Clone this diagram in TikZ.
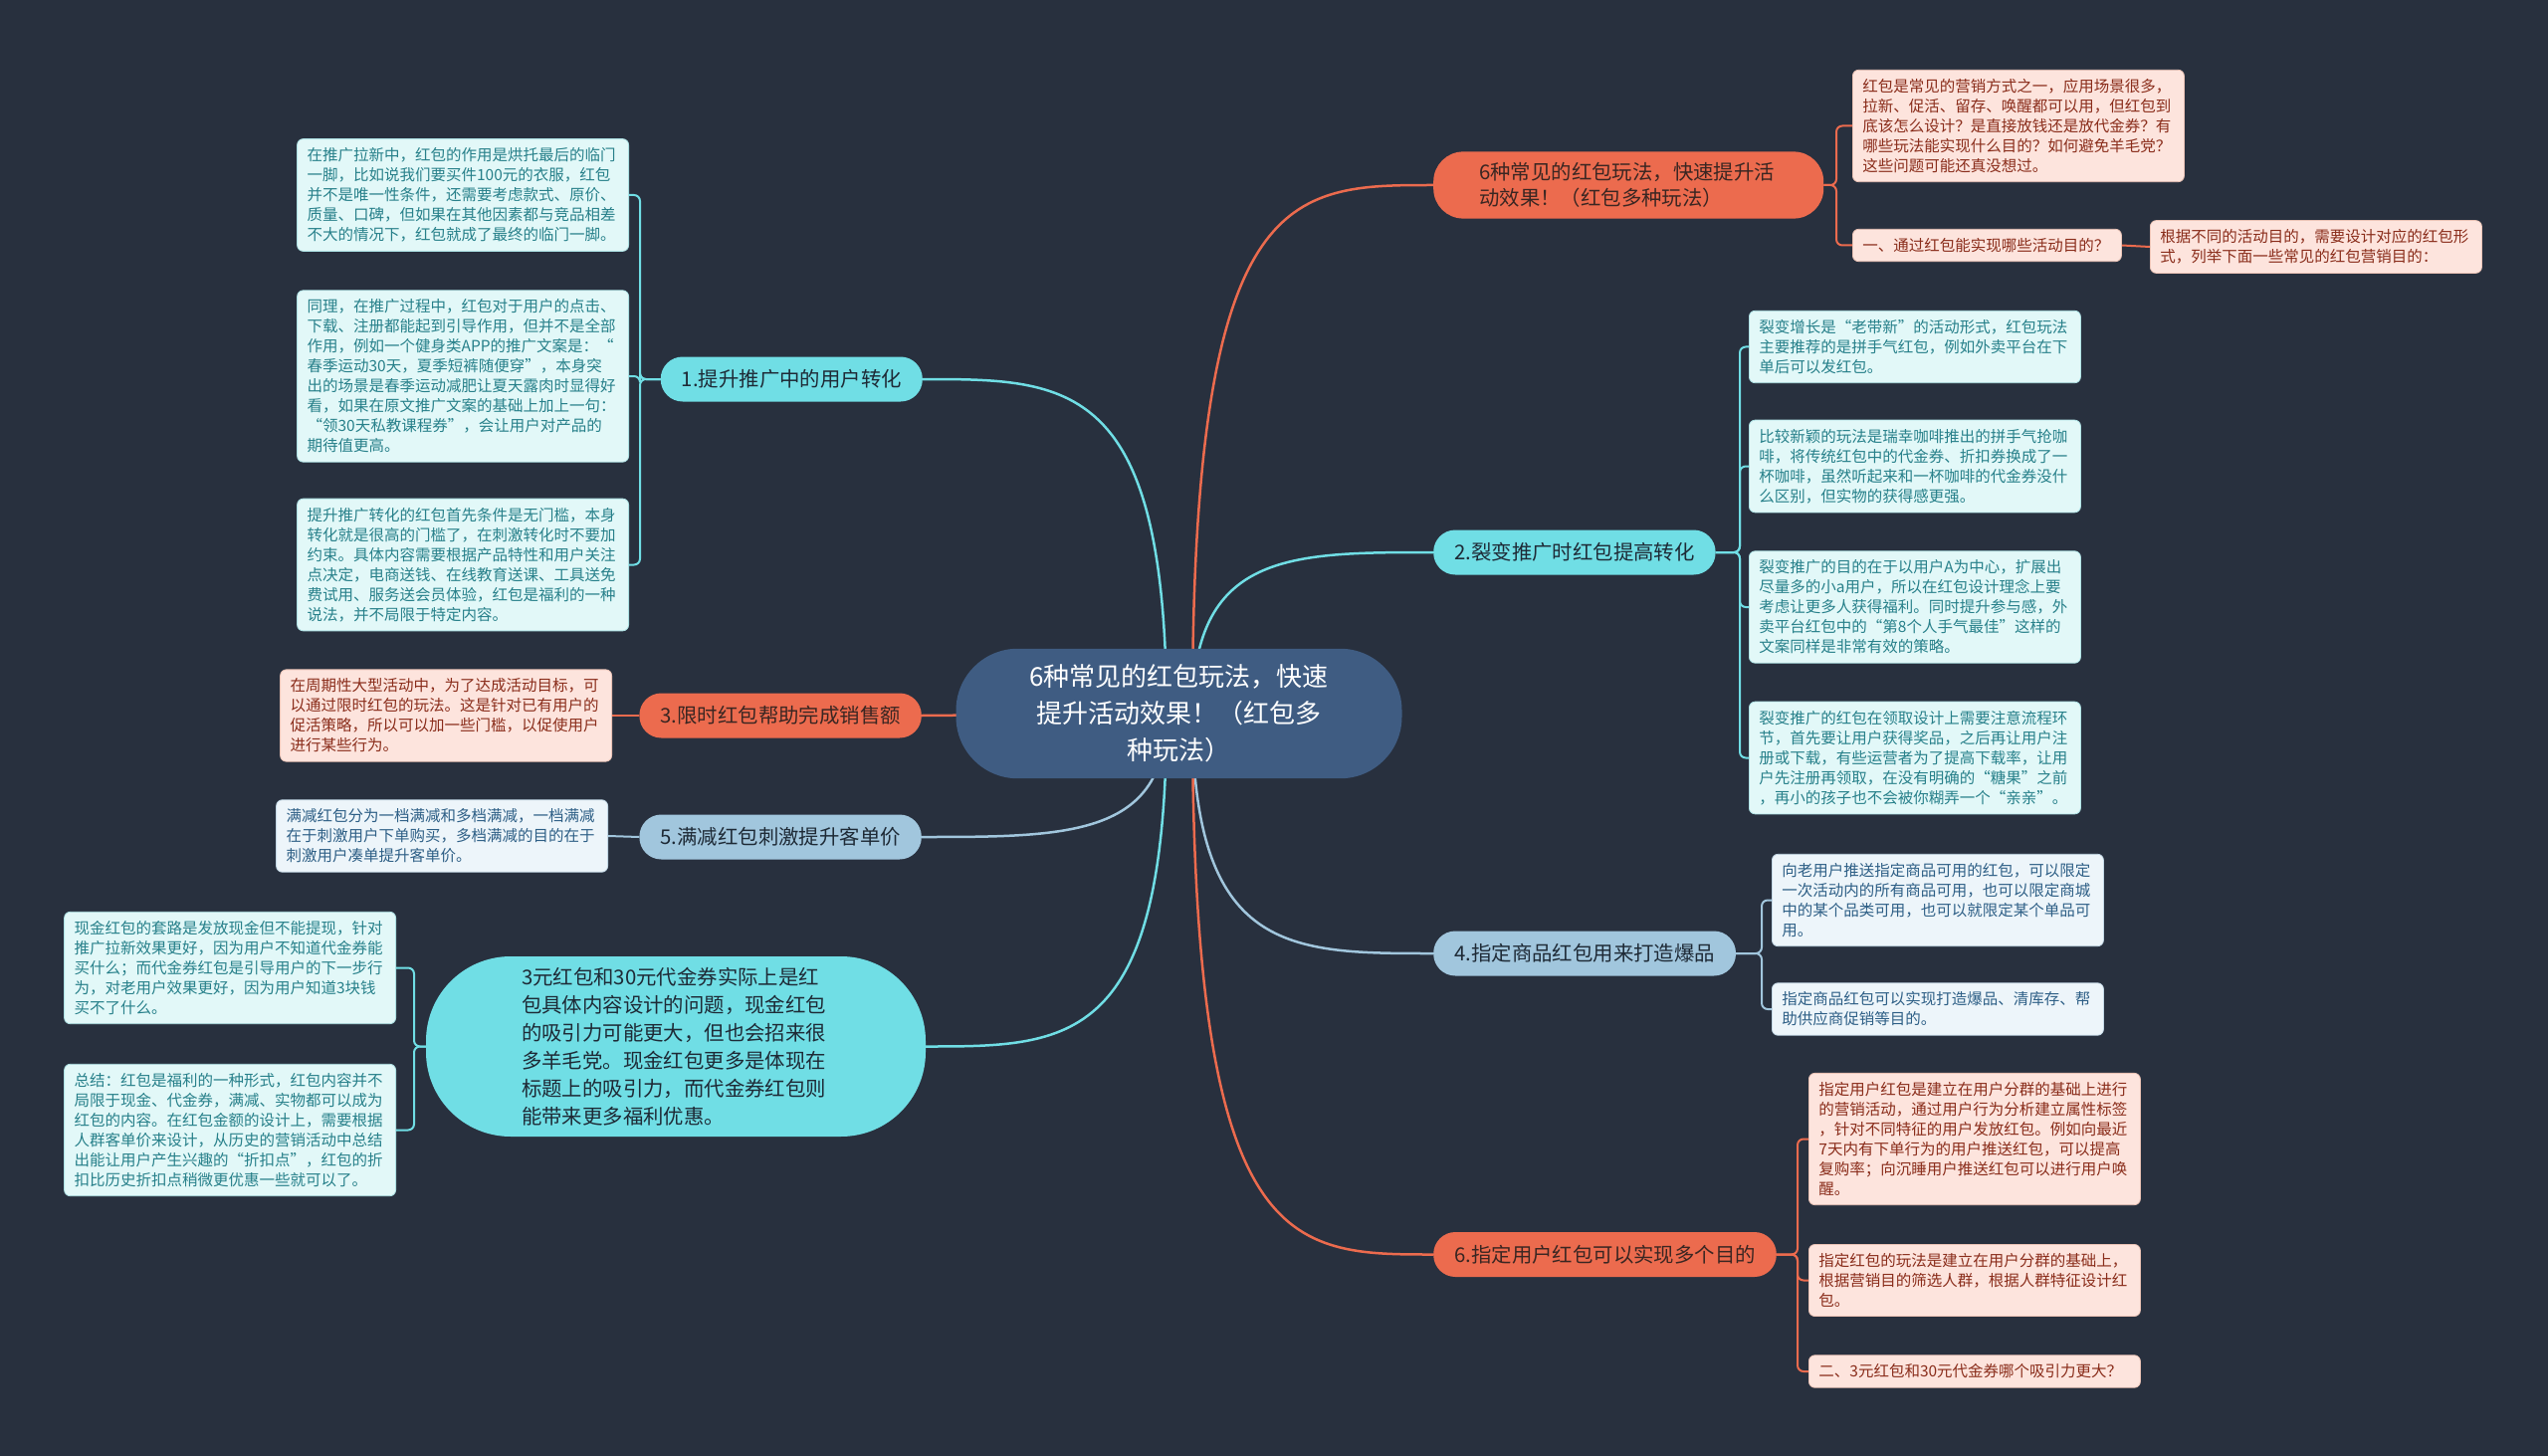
\documentclass[tikz,border=0pt]{standalone}
\usepackage{fontspec}
\setmainfont{Noto Sans CJK SC}
\usetikzlibrary{backgrounds,calc}
\pgfdeclarelayer{bgfill}
\pgfsetlayers{bgfill,background,main}
\definecolor{bg}{HTML}{28303E}
\definecolor{ctr}{HTML}{3F5C82}
\definecolor{org}{HTML}{EC6B4E}
\definecolor{cyn}{HTML}{70DEE5}
\definecolor{lbl}{HTML}{A1C6DD}
\definecolor{pinkleaf}{HTML}{FDE4DD}
\definecolor{pinkedge}{HTML}{EBC3B6}
\definecolor{pinktxt}{HTML}{8A2D1B}
\definecolor{cynleaf}{HTML}{E2F8F8}
\definecolor{cynedge}{HTML}{AEE2E5}
\definecolor{cyntxt}{HTML}{27808A}
\definecolor{blueleaf}{HTML}{EDF5FA}
\definecolor{blueedge}{HTML}{C3D8E6}
\definecolor{bluetxt}{HTML}{2E5F86}
\definecolor{darktxt}{HTML}{1E2A36}
\definecolor{orgtxt}{HTML}{3A2622}
\tikzset{
  centernode/.style={fill=ctr, text=white, rounded corners=62pt, font=\fontsize{26}{37}\selectfont, text width=320pt, align=center, inner xsep=64pt, inner ysep=16pt},
  branch/.style={rounded corners=22pt, minimum height=45pt, inner xsep=21pt, inner ysep=0pt, font=\fontsize{20.4}{26}\selectfont},
  obranch/.style={branch, fill=org, text=orgtxt},
  cbranch/.style={branch, fill=cyn, text=darktxt},
  bbranch/.style={branch, fill=lbl, text=darktxt},
  leaf/.style={rounded corners=6pt, inner xsep=10pt, inner ysep=9pt, text width=313pt, align=left, font=\fontsize{15.5}{20}\selectfont, line width=0.8pt},
  pleaf/.style={leaf, fill=pinkleaf, draw=pinkedge, text=pinktxt},
  cleaf/.style={leaf, fill=cynleaf, draw=cynedge, text=cyntxt},
  bleaf/.style={leaf, fill=blueleaf, draw=blueedge, text=bluetxt},
  conn/.style={line width=2.5pt},
  brk/.style={line width=2pt, rounded corners=6pt},
}
\begin{document}
\begin{tikzpicture}[x=1pt,y=-1pt]
\useasboundingbox (0,0) rectangle (2560,1463);
\begin{pgfonlayer}{bgfill}
\fill[bg] (0,0) rectangle (2560,1463);
\end{pgfonlayer}

% center
\node[centernode] (C) at (1184.5,717) {6种常见的红包玩法，快速\\提升活动效果！（红包多\\种玩法）};
\coordinate (cR) at (1198,717);
\coordinate (cL) at (1172,717);

% top right branch
\node[obranch, anchor=west, text width=300pt, align=left, inner xsep=46pt, inner ysep=11pt, rounded corners=30pt] (B0) at (1440,186) {6种常见的红包玩法，快速提升活\\动效果！（红包多种玩法）};
\node[pleaf, anchor=west] (T1) at (1861,126.5) {红包是常见的营销方式之一，应用场景很多，\\拉新、促活、留存、唤醒都可以用，但红包到\\底该怎么设计？是直接放钱还是放代金券？有\\哪些玩法能实现什么目的？如何避免羊毛党？\\这些问题可能还真没想过。};
\node[pleaf, anchor=west, text width=250pt] (T2) at (1861,246.5) {一、通过红包能实现哪些活动目的？};
\node[pleaf, anchor=west] (T3) at (2160,248) {根据不同的活动目的，需要设计对应的红包形\\式，列举下面一些常见的红包营销目的：};

% branch 1
\node[cbranch, anchor=east] (B1) at (927,381) {1.提升推广中的用户转化};
\node[cleaf, anchor=east] (L1a) at (632,196) {在推广拉新中，红包的作用是烘托最后的临门\\一脚，比如说我们要买件100元的衣服，红包\\并不是唯一性条件，还需要考虑款式、原价、\\质量、口碑，但如果在其他因素都与竞品相差\\不大的情况下，红包就成了最终的临门一脚。};
\node[cleaf, anchor=east] (L1b) at (632,378) {同理，在推广过程中，红包对于用户的点击、\\下载、注册都能起到引导作用，但并不是全部\\作用，例如一个健身类APP的推广文案是：“\\春季运动30天，夏季短裤随便穿”，本身突\\出的场景是春季运动减肥让夏天露肉时显得好\\看，如果在原文推广文案的基础上加上一句：\\“领30天私教课程券”，会让用户对产品的\\期待值更高。};
\node[cleaf, anchor=east] (L1c) at (632,567.5) {提升推广转化的红包首先条件是无门槛，本身\\转化就是很高的门槛了，在刺激转化时不要加\\约束。具体内容需要根据产品特性和用户关注\\点决定，电商送钱、在线教育送课、工具送免\\费试用、服务送会员体验，红包是福利的一种\\说法，并不局限于特定内容。};

% branch 2
\node[cbranch, anchor=west] (B2) at (1440,555) {2.裂变推广时红包提高转化};
\node[cleaf, anchor=west] (L2a) at (1757,348.5) {裂变增长是“老带新”的活动形式，红包玩法\\主要推荐的是拼手气红包，例如外卖平台在下\\单后可以发红包。};
\node[cleaf, anchor=west] (L2b) at (1757,468.5) {比较新颖的玩法是瑞幸咖啡推出的拼手气抢咖\\啡，将传统红包中的代金券、折扣券换成了一\\杯咖啡，虽然听起来和一杯咖啡的代金券没什\\么区别，但实物的获得感更强。};
\node[cleaf, anchor=west] (L2c) at (1757,610) {裂变推广的目的在于以用户A为中心，扩展出\\尽量多的小a用户，所以在红包设计理念上要\\考虑让更多人获得福利。同时提升参与感，外\\卖平台红包中的“第8个人手气最佳”这样的\\文案同样是非常有效的策略。};
\node[cleaf, anchor=west] (L2d) at (1757,761.5) {裂变推广的红包在领取设计上需要注意流程环\\节，首先要让用户获得奖品，之后再让用户注\\册或下载，有些运营者为了提高下载率，让用\\户先注册再领取，在没有明确的“糖果”之前\\，再小的孩子也不会被你糊弄一个“亲亲”。};

% branch 3
\node[obranch, anchor=east] (B3) at (926,719) {3.限时红包帮助完成销售额};
\node[pleaf, anchor=east] (L3) at (615,719) {在周期性大型活动中，为了达成活动目标，可\\以通过限时红包的玩法。这是针对已有用户的\\促活策略，所以可以加一些门槛，以促使用户\\进行某些行为。};

% branch 5
\node[bbranch, anchor=east] (B5) at (926,841) {5.满减红包刺激提升客单价};
\node[bleaf, anchor=east] (L5) at (611,840) {满减红包分为一档满减和多档满减，一档满减\\在于刺激用户下单购买，多档满减的目的在于\\刺激用户凑单提升客单价。};

% big node
\node[fill=cyn, text=darktxt, rounded corners=85pt, text width=310pt, align=left, inner xsep=96pt, inner ysep=11pt, font=\fontsize{20.4}{28}\selectfont] (BIG) at (679,1051.5) {3元红包和30元代金券实际上是红\\包具体内容设计的问题，现金红包\\的吸引力可能更大，但也会招来很\\多羊毛党。现金红包更多是体现在\\标题上的吸引力，而代金券红包则\\能带来更多福利优惠。};
\node[cleaf, anchor=east] (LL1) at (398,972.5) {现金红包的套路是发放现金但不能提现，针对\\推广拉新效果更好，因为用户不知道代金券能\\买什么；而代金券红包是引导用户的下一步行\\为，对老用户效果更好，因为用户知道3块钱\\买不了什么。};
\node[cleaf, anchor=east] (LL2) at (398,1135.5) {总结：红包是福利的一种形式，红包内容并不\\局限于现金、代金券，满减、实物都可以成为\\红包的内容。在红包金额的设计上，需要根据\\人群客单价来设计，从历史的营销活动中总结\\出能让用户产生兴趣的“折扣点”，红包的折\\扣比历史折扣点稍微更优惠一些就可以了。};

% branch 4
\node[bbranch, anchor=west] (B4) at (1440,958) {4.指定商品红包用来打造爆品};
\node[bleaf, anchor=west] (L4a) at (1780,904.5) {向老用户推送指定商品可用的红包，可以限定\\一次活动内的所有商品可用，也可以限定商城\\中的某个品类可用，也可以就限定某个单品可\\用。};
\node[bleaf, anchor=west] (L4b) at (1780,1014) {指定商品红包可以实现打造爆品、清库存、帮\\助供应商促销等目的。};

% branch 6
\node[obranch, anchor=west] (B6) at (1440,1260.5) {6.指定用户红包可以实现多个目的};
\node[pleaf, anchor=west] (L6a) at (1817,1144.5) {指定用户红包是建立在用户分群的基础上进行\\的营销活动，通过用户行为分析建立属性标签\\，针对不同特征的用户发放红包。例如向最近\\7天内有下单行为的用户推送红包，可以提高\\复购率；向沉睡用户推送红包可以进行用户唤\\醒。};
\node[pleaf, anchor=west] (L6b) at (1817,1286.5) {指定红包的玩法是建立在用户分群的基础上，\\根据营销目的筛选人群，根据人群特征设计红\\包。};
\node[pleaf, anchor=west] (L6c) at (1817,1378) {二、3元红包和30元代金券哪个吸引力更大？};

\begin{pgfonlayer}{background}
% center to branches
\draw[conn, org] (cR) .. controls ($(cR |- B0.west)$) and ($(cR |- B0.west)!0.4!(B0.west)$) .. (B0.west);
\draw[conn, cyn] (cR) .. controls ($(cR |- B2.west)$) and ($(cR |- B2.west)!0.4!(B2.west)$) .. (B2.west);
\draw[conn, lbl] (cR) .. controls ($(cR |- B4.west)$) and ($(cR |- B4.west)!0.4!(B4.west)$) .. (B4.west);
\draw[conn, org] (cR) .. controls ($(cR |- B6.west)$) and ($(cR |- B6.west)!0.4!(B6.west)$) .. (B6.west);
\draw[conn, cyn] (cL) .. controls ($(cL |- B1.east)$) and ($(cL |- B1.east)!0.4!(B1.east)$) .. (B1.east);
\draw[conn, org] (cL) -- (B3.east);
\draw[conn, lbl] (cL) .. controls ($(cL |- B5.east)$) and ($(cL |- B5.east)!0.4!(B5.east)$) .. (B5.east);
\draw[conn, cyn] (cL) .. controls ($(cL |- BIG.east)$) and ($(cL |- BIG.east)!0.4!(BIG.east)$) .. (BIG.east);
% branch to leaves
\draw[brk, org] (T1.west) -- ++(-16,0) |- (B0.east);
\draw[brk, org] (T2.west) -- ++(-16,0) |- (B0.east);
\draw[brk, org] (T2.east) -- (T3.west);
\draw[brk, cyn] (L1a.east) -- ++(11,0) |- (B1.west);
\draw[brk, cyn] (L1b.east) -- ++(11,0) |- (B1.west);
\draw[brk, cyn] (L1c.east) -- ++(11,0) |- (B1.west);
\draw[brk, cyn] (L2a.west) -- ++(-9,0) |- (B2.east);
\draw[brk, cyn] (L2b.west) -- ++(-9,0) |- (B2.east);
\draw[brk, cyn] (L2c.west) -- ++(-9,0) |- (B2.east);
\draw[brk, cyn] (L2d.west) -- ++(-9,0) |- (B2.east);
\draw[brk, org] (L3.east) -- (B3.west);
\draw[brk, lbl] (L5.east) -- (B5.west);
\draw[brk, cyn] (LL1.east) -- ++(18,0) |- (BIG.west);
\draw[brk, cyn] (LL2.east) -- ++(18,0) |- (BIG.west);
\draw[brk, lbl] (L4a.west) -- ++(-10,0) |- (B4.east);
\draw[brk, lbl] (L4b.west) -- ++(-10,0) |- (B4.east);
\draw[brk, org] (L6a.west) -- ++(-11,0) |- (B6.east);
\draw[brk, org] (L6b.west) -- ++(-11,0) |- (B6.east);
\draw[brk, org] (L6c.west) -- ++(-11,0) |- (B6.east);
\end{pgfonlayer}
\end{tikzpicture}
\end{document}
